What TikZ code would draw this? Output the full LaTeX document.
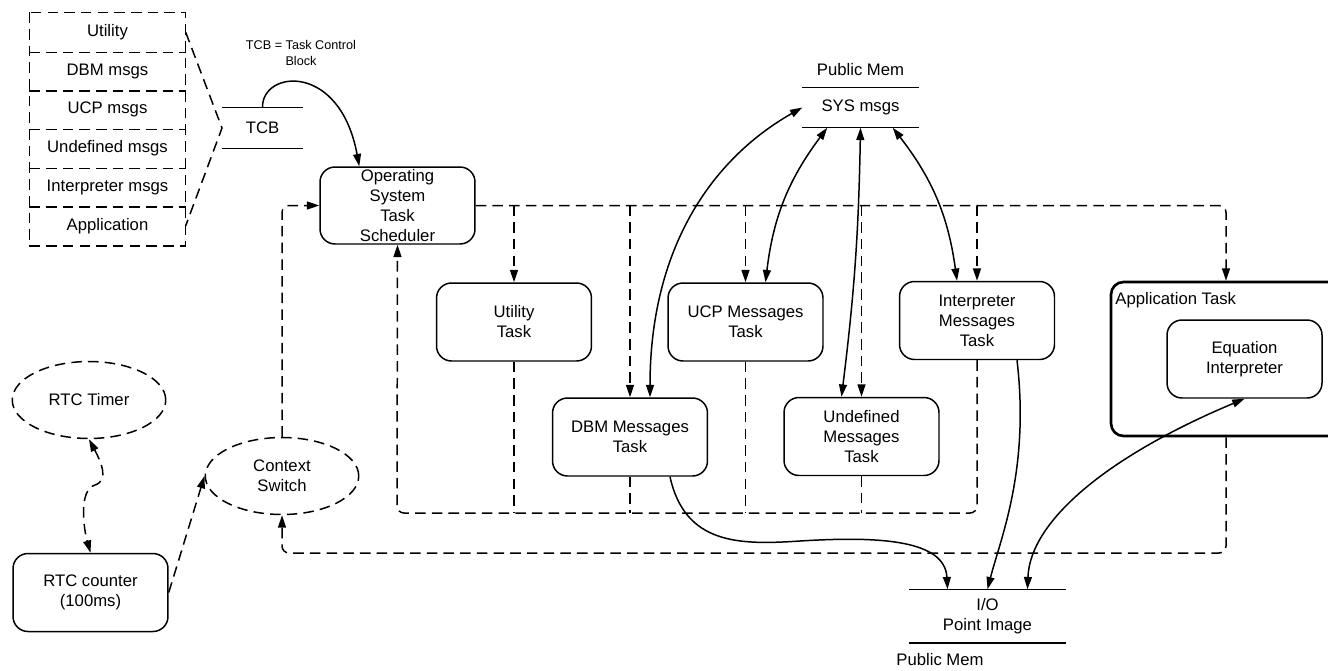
\documentclass[tikz,border=0pt]{standalone}
\usepackage{fontspec}
\setmainfont{Liberation Sans}
\usepackage{tikz}
\usetikzlibrary{arrows.meta,calc,shapes.geometric,positioning}

\tikzset{
  every node/.style={font=\fontsize{9.5}{11.4}\selectfont},
  taskbox/.style={draw, rounded corners=0.3cm, minimum width=3.1cm, minimum height=1.56cm, align=center, inner sep=1pt},
  stackbox/.style={minimum width=3.1cm, minimum height=0.773cm, inner sep=0pt},
  timerell/.style={draw, dline, ellipse, minimum width=3.07cm, minimum height=1.54cm, inner sep=0pt, align=center},
  memstore/.style={minimum height=0.78cm, inner sep=0pt, align=center},
  dline/.style={dash pattern=on 6pt off 3.5pt},
}

\begin{document}
\begin{tikzpicture}[x=0.02cm, y=-0.02cm, line width=0.85pt, >={Triangle[length=7pt,width=4.5pt]}]
\useasboundingbox (0,0) rectangle (1328,670);

% task control block
\foreach \lbl [count=\i] in {Utility, DBM msgs, UCP msgs, Undefined msgs, Interpreter msgs, Application}
  \node[stackbox] (stack\i) at (107.5, {13+38.67*(\i-0.5)}) {\lbl};
\draw[dline] (stack1.north west) rectangle (stack6.south east);
\foreach \i in {1,...,5}
  \draw[dline] (stack\i.south west) -- (stack\i.south east);
\coordinate (stacktip) at (222,128);
\draw[dline] (stack1.east) -- (stacktip) -- (stack6.east);

\node[memstore, minimum width=1.58cm, minimum height=0.8cm] (tcb) at (262.5,128) {TCB};
\draw (tcb.north west) -- (tcb.north east);
\draw (tcb.south west) -- (tcb.south east);
\node[font=\fontsize{7.2}{8.6}\selectfont, align=center] (tcbnote) at (301,53) {TCB = Task Control\\Block};

\node[taskbox, inner sep=0pt, minimum height=1.54cm] (os) at (397.5,205.5) {Operating\\System\\Task\\Scheduler};

% tasks
\node[taskbox] (utiltask) at (514,322) {Utility\\Task};
\node[taskbox] (ucptask) at (745.5,322) {UCP Messages\\Task};
\node[taskbox] (interptask) at (977,320.5) {Interpreter\\Messages\\Task};
\node[taskbox] (dbmtask) at (630,437) {DBM Messages\\Task};
\node[taskbox] (undeftask) at (861.5,436.5) {Undefined\\Messages\\Task};

\node[draw, line width=1.5pt, rounded corners=0.25cm, minimum width=4.6cm, minimum height=3.08cm, inner sep=0pt] (apptask) at (1226,359) {};
\node[below right=0.22cm and 0.1cm of apptask.north west, inner sep=0pt] (apptitle) {Application Task};
\node[taskbox] (eqinterp) at (1244.5,359) {Equation\\Interpreter};

% memories
\node[memstore, minimum width=2.3cm] (sysmsgs) at (860.5,107.5) {SYS msgs};
\draw (sysmsgs.north west) -- (sysmsgs.north east);
\draw (sysmsgs.south west) -- (sysmsgs.south east);
\node (pubmemtop) at (860.5,70) {Public Mem};

\node[memstore, minimum width=3.1cm, minimum height=1.04cm] (iopt) at (987.5,616) {I/O\\Point Image};
\draw (iopt.north west) -- (iopt.north east);
\draw (iopt.south west) -- (iopt.south east);
\node (pubmembot) at (940,660) {Public Mem};

% timer
\node[timerell] (rtctimer) at (89,400) {RTC Timer};
\node[timerell] (ctxsw) at (282,476) {Context\\Switch};
\node[taskbox] (rtccount) at (90.5,592.5) {RTC counter\\(100ms)};

% scheduling
\draw[->] (tcb.north) .. controls (262,70) and (340,62) .. ([xshift=0.8cm]os.north west);
\draw[dline,->,rounded corners=4pt] (os.east) -| (apptask.north);
\foreach \t in {utiltask, dbmtask, ucptask, undeftask, interptask}
  \draw[dline,->] (\t.north |- os.east) -- (\t.north);

\coordinate (retline) at (397,513);
\foreach \t in {utiltask, dbmtask, ucptask, undeftask}
  \draw[dline] (\t.south) -- (\t.south |- retline);
\draw[dline,->,rounded corners=4pt] (interptask.south) |- (retline) -- (os.south);

\coordinate (appret) at (282,553);
\draw[dline,->,rounded corners=4pt] (apptask.south) |- (appret) -- (ctxsw.south);
\draw[dline,->,rounded corners=4pt] (ctxsw.north) |- (os.west);
\draw[dline,->] (rtccount.east) -- (ctxsw.west);
\draw[dline,<->] (rtctimer.south) .. controls (100,460) and (110,480) .. (95,485)
  .. controls (78,490) and (84,530) .. (rtccount.north);

% messages
\draw[<->] ([xshift=0.4cm]dbmtask.north) .. controls (650,250) and (710,160) .. (sysmsgs.west);
\draw[<->] ([xshift=0.4cm]ucptask.north) to[bend left=15] ([xshift=0.5cm]sysmsgs.south west);
\draw[<->] ([xshift=-0.4cm]undeftask.north) to[bend right=3] (sysmsgs.south);
\draw[<->] ([xshift=-0.4cm]interptask.north) to[bend right=15] ([xshift=-0.52cm]sysmsgs.south east);

% I/O
\draw[->] ([xshift=0.8cm]dbmtask.south) .. controls (685,545) and (740,545) .. (800,541)
  .. controls (880,536) and (945,540) .. ([xshift=-0.8cm]iopt.north);
\draw[->] ([xshift=0.8cm]interptask.south) .. controls (1030,470) and (1000,540) .. (iopt.north);
\draw[<->] ([xshift=0.8cm]iopt.north) .. controls (1030,520) and (1110,455) .. (eqinterp.south);
\end{tikzpicture}
\end{document}
